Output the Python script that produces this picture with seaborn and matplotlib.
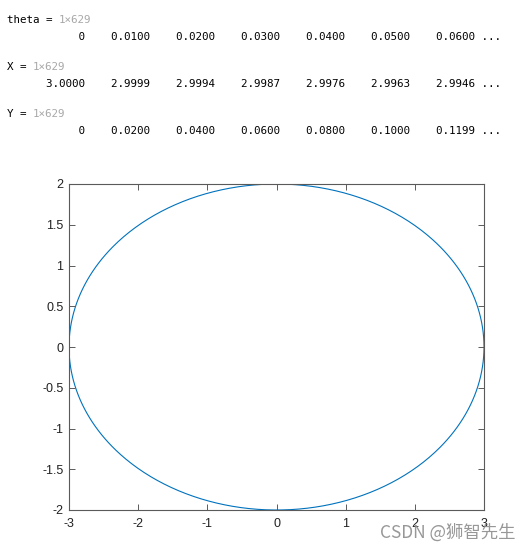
import numpy as np
import pandas as pd
import matplotlib
matplotlib.use('Agg')

import matplotlib.pyplot as plt
import seaborn as sns

# ================= DATA =================
# theta = 0:0.01:6.28 (1x629), as printed in the console above the plot
theta_step = 0.01
theta_count = 629
semi_x = 3.0
semi_y = 2.0

theta = np.arange(theta_count) * theta_step
X = semi_x * np.cos(theta)
Y = semi_y * np.sin(theta)

x_ticks = [-3, -2, -1, 0, 1, 2, 3]
y_ticks = [-2, -1.5, -1, -0.5, 0, 0.5, 1, 1.5, 2]
y_ticklabels = ["-2", "-1.5", "-1", "-0.5", "0", "0.5", "1", "1.5", "2"]

console_rows = [
    ("theta", "1×629", "           0    0.0100    0.0200    0.0300    0.0400    0.0500    0.0600 ..."),
    ("X", "1×629", "      3.0000    2.9999    2.9994    2.9987    2.9976    2.9963    2.9946 ..."),
    ("Y", "1×629", "           0    0.0200    0.0400    0.0600    0.0800    0.1000    0.1199 ..."),
]

df = pd.DataFrame({"X": X, "Y": Y})

# ================= STYLE =================
sns.set_theme(style="white")
plt.rcParams['font.family'] = ['Liberation Sans', 'DejaVu Sans']

W, H = 531, 552
fig = plt.figure(figsize=(W / 100, H / 100), dpi=100)

# ================= CONSOLE TEXT =================
mono = 7.8
char_w = 6.5
rows_y = [20, 67, 114]
for (name, size_txt, values), yy in zip(console_rows, rows_y):
    lead = name + " = "
    fig.text(7 / W, 1 - yy / H, lead, family='DejaVu Sans Mono', fontsize=mono,
             color='black', va='center', ha='left')
    fig.text((7 + len(lead) * char_w) / W, 1 - yy / H, size_txt, family='DejaVu Sans Mono',
             fontsize=mono, color='#a8a8a8', va='center', ha='left')
    fig.text(7 / W, 1 - (yy + 17) / H, values, family='DejaVu Sans Mono', fontsize=mono,
             color='black', va='center', ha='left')

# ================= PLOT =================
ax = fig.add_axes([69 / W, 1 - 510 / H, (484 - 69) / W, (510 - 184) / H])
sns.lineplot(data=df, x="X", y="Y", sort=False, estimator=None, ax=ax,
             color='#0072BD', linewidth=0.8)

ax.set_xlim(-3, 3)
ax.set_ylim(-2, 2)
ax.set_xticks(x_ticks)
ax.set_xticklabels([str(t) for t in x_ticks])
ax.set_yticks(y_ticks)
ax.set_yticklabels(y_ticklabels)
ax.set_xlabel("")
ax.set_ylabel("")

axis_col = '#5a5a5a'
for sp in ax.spines.values():
    sp.set_visible(True)
    sp.set_color(axis_col)
    sp.set_linewidth(0.8)
ax.tick_params(direction='in', length=4, width=0.7, color=axis_col,
               top=True, right=True, bottom=True, left=True,
               labelsize=9, labelcolor='#222222', pad=4)
ax.tick_params(axis='x', pad=6)

# watermark
fig.text(515 / W, 1 - 533 / H, "CSDN @狮智先生", family=['Noto Sans CJK SC', 'DejaVu Sans'],
         fontsize=12.5, color='#8c8c8c', alpha=0.9, ha='right', va='center')

fig.savefig("out.png", dpi=100)
plt.close(fig)
